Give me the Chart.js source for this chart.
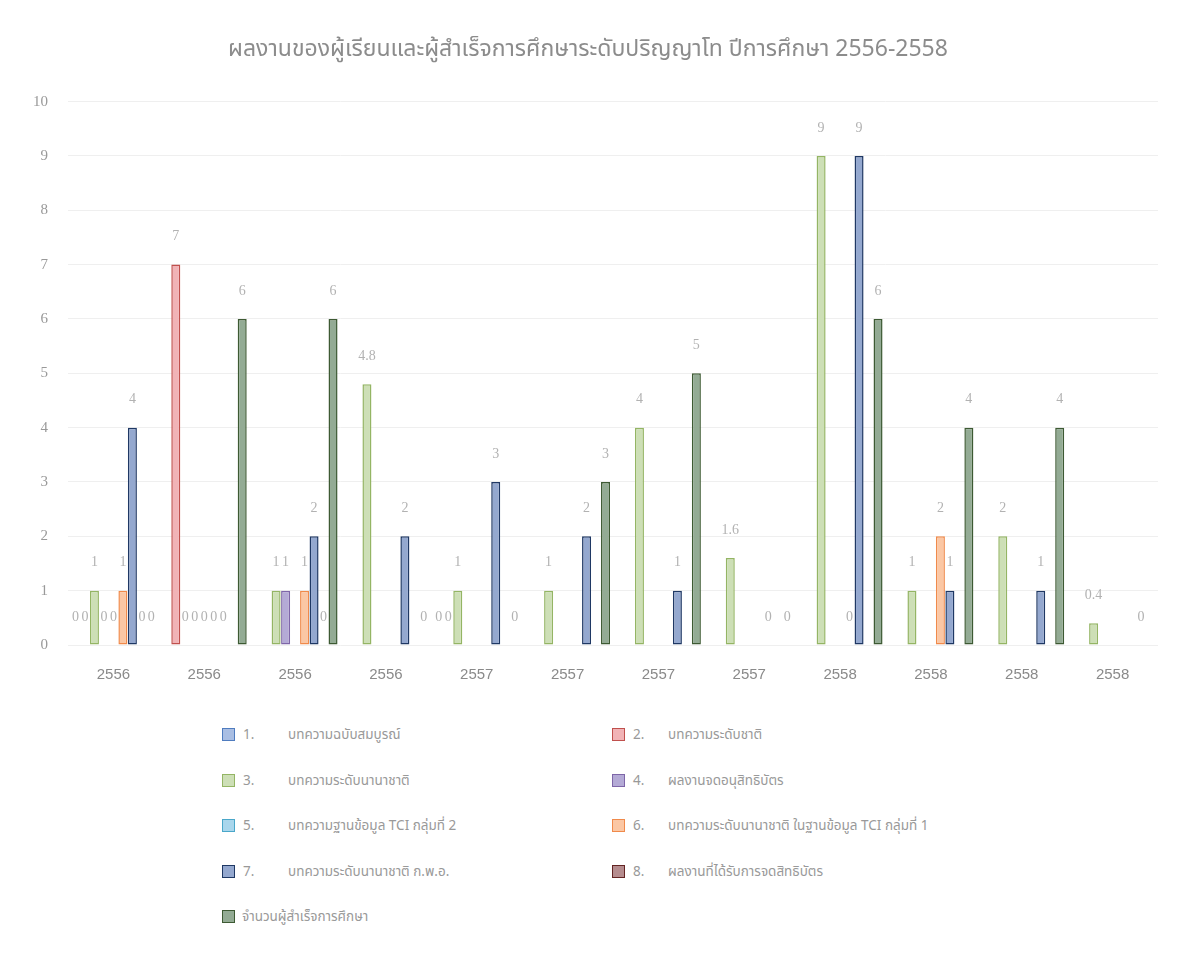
<!DOCTYPE html>
<html>
<head>
<meta charset="utf-8">
<script src="https://cdn.jsdelivr.net/npm/chart.js@4"></script>
<style>
  body { margin: 0; background: #fff; font-family: "Noto Sans Thai", "Noto Sans", "Liberation Sans", sans-serif; }
  #wrap { position: relative; width: 1195px; height: 956px; }
  #box { position: absolute; left: 0; top: 0; width: 1195px; height: 700px; }
  .leg { position: absolute; font-size: 13.5px; color: #999; white-space: nowrap; }
  .leg i { position: absolute; left: 0; top: 1px; width: 11px; height: 11px; border: 1.5px solid; }
  .leg .num { position: absolute; left: 21px; top: -2px; }
  .leg .txt { position: absolute; top: -2px; }
</style>
</head>
<body>
<div id="wrap">
  <div id="box"><canvas id="chart"></canvas></div>
  <div id="legend"></div>
</div>
<script>
const titleText = 'ผลงานของผู้เรียนและผู้สำเร็จการศึกษาระดับปริญญาโท ปีการศึกษา 2556-2558';
const categories = ['2556', '2556', '2556', '2556', '2557', '2557', '2557', '2557', '2558', '2558', '2558', '2558'];
const seriesNums = ['1.', '2.', '3.', '4.', '5.', '6.', '7.', '8.', ''];
const seriesNames = [
  'บทความฉบับสมบูรณ์',
  'บทความระดับชาติ',
  'บทความระดับนานาชาติ',
  'ผลงานจดอนุสิทธิบัตร',
  'บทความฐานข้อมูล TCI กลุ่มที่ 2',
  'บทความระดับนานาชาติ ในฐานข้อมูล TCI กลุ่มที่ 1',
  'บทความระดับนานาชาติ ก.พ.อ.',
  'ผลงานที่ได้รับการจดสิทธิบัตร',
  'จำนวนผู้สำเร็จการศึกษา'
];
// null = no label in the original, 0 = a "0" label is shown
const s1 = [0, null, null, null, 0, null, null, null, null, null, null, null];
const s2 = [0, 7, null, null, 0, null, null, null, null, null, null, null];
const s3 = [1, 0, 1, 4.8, 1, 1, 4, 1.6, 9, 1, 2, 0.4];
const s4 = [0, 0, 1, null, null, null, null, null, null, null, null, null];
const s5 = [0, 0, null, null, null, null, null, null, null, null, null, null];
const s6 = [1, 0, 1, null, null, null, null, null, 0, 2, null, null];
const s7 = [4, 0, 2, 2, 3, 2, 1, 0, 9, 1, 1, null];
const s8 = [0, null, 0, null, null, null, null, null, null, null, null, 0];
const s9 = [0, 6, 6, 0, 0, 3, 5, 0, 6, 4, 4, null];
const seriesData = [s1, s2, s3, s4, s5, s6, s7, s8, s9];
const fills = ['#a9bee3', '#f1b3b6', '#cddfb6', '#b4aad6', '#a9d6ec', '#fbc7a4', '#94a8cf', '#b58c8e', '#93ab94'];
const borders = ['#4f7cbf', '#c0504d', '#94b564', '#7e66a8', '#4aa7c9', '#f08a4b', '#1f3864', '#632423', '#3d5a33'];

const datasets = seriesData.map((d, i) => ({
  label: seriesNums[i] ? seriesNums[i] + ' ' + seriesNames[i] : seriesNames[i],
  data: d,
  backgroundColor: fills[i],
  borderColor: borders[i],
  borderWidth: ctx => (ctx.raw ? 1.5 : 0),
  borderSkipped: false,
  barPercentage: 0.95,
  categoryPercentage: 0.94
}));

const valueLabels = {
  id: 'valueLabels',
  afterDatasetsDraw(chart) {
    const ctx = chart.ctx;
    ctx.save();
    ctx.font = '14px "Liberation Serif", serif';
    ctx.fillStyle = '#b2b2b2';
    ctx.textAlign = 'center';
    ctx.textBaseline = 'middle';
    chart.data.datasets.forEach((ds, i) => {
      chart.getDatasetMeta(i).data.forEach((bar, j) => {
        const v = ds.data[j];
        if (v === null || v === undefined) return;
        ctx.fillText(String(v), bar.x, bar.y - 28);
      });
    });
    ctx.restore();
  }
};

new Chart(document.getElementById('chart'), {
  type: 'bar',
  data: { labels: categories, datasets: datasets },
  options: {
    responsive: true,
    maintainAspectRatio: false,
    animation: false,
    layout: { padding: { left: 18, right: 37, top: 0, bottom: 0 } },
    plugins: {
      legend: { display: false },
      tooltip: { enabled: false },
      title: {
        display: true,
        text: titleText,
        color: '#8c8c8c',
        font: { size: 23, weight: 'normal', family: '"Noto Sans Thai", "Noto Sans", sans-serif' },
        padding: { top: 38, bottom: 36 }
      }
    },
    scales: {
      x: {
        grid: { display: false },
        border: { display: false },
        ticks: { color: '#8a8a8a', font: { size: 15, family: '"Liberation Sans", sans-serif' }, padding: 13 },
        afterFit: s => { s.height = 55; }
      },
      y: {
        min: 0,
        max: 10,
        ticks: { stepSize: 1, color: '#999', font: { size: 15, family: '"Liberation Serif", serif' }, padding: 20 },
        grid: { color: '#efefef', drawTicks: false },
        border: { display: false },
        afterFit: s => { s.width = 50; }
      }
    }
  },
  plugins: [valueLabels]
});

// two-column legend below the chart
const legend = document.getElementById('legend');
seriesNames.forEach((name, i) => {
  const col = i % 2, row = Math.floor(i / 2);
  const el = document.createElement('div');
  el.className = 'leg';
  el.style.left = (col ? 612 : 222) + 'px';
  el.style.top = (727 + row * 45.5) + 'px';
  const txtLeft = seriesNums[i] ? (col ? 56 : 66) : 20;
  el.innerHTML = '<i style="background:' + fills[i] + ';border-color:' + borders[i] + '"></i>' +
    (seriesNums[i] ? '<span class="num">' + seriesNums[i] + '</span>' : '') +
    '<span class="txt" style="left:' + txtLeft + 'px">' + name + '</span>';
  legend.appendChild(el);
});
</script>
</body>
</html>
